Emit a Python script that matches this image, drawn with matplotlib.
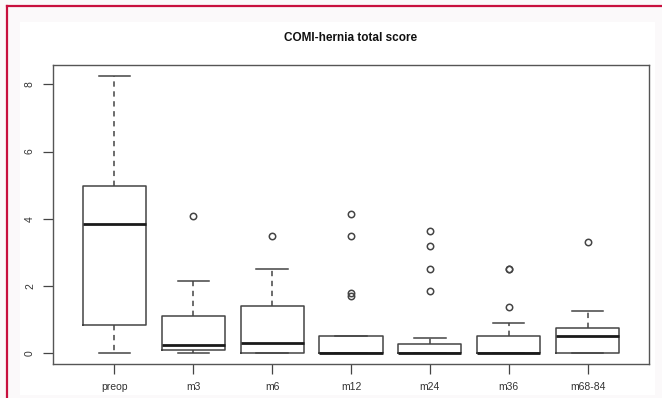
import matplotlib
matplotlib.use("Agg")
import matplotlib.pyplot as plt
from matplotlib.patches import Rectangle
from matplotlib.lines import Line2D

categories = ["preop", "m3", "m6", "m12", "m24", "m36", "m68-84"]
whislo = [0.0, 0.0, 0.0, 0.0, 0.0, 0.0, 0.0]
q1 = [0.84, 0.09, 0.0, 0.0, 0.0, 0.0, 0.0]
med = [3.84, 0.23, 0.31, 0.0, 0.0, 0.0, 0.51]
q3 = [4.98, 1.10, 1.40, 0.51, 0.27, 0.49, 0.74]
whishi = [8.25, 2.13, 2.50, 0.51, 0.45, 0.89, 1.25]
outliers = [
    [],
    [4.09],
    [3.49],
    [4.15, 3.49, 1.80, 1.69],
    [3.64, 3.19, 2.50, 1.84],
    [2.50, 2.50, 1.36],
    [3.30],
]
yticks = [0, 2, 4, 6, 8]
title = "COMI-hernia total score"

plt.rcParams['font.family'] = ['Liberation Sans', 'DejaVu Sans']

fig = plt.figure(figsize=(6.62, 3.98), dpi=100)
fig.patch.set_facecolor('#fbf9fa')

# inner white panel
fig.add_artist(Rectangle((20/662, 1-395/398), (655-20)/662, (395-22)/398,
                         transform=fig.transFigure, facecolor='white',
                         edgecolor='none', zorder=0))
# crimson frame lines (top and left)
fig.add_artist(Line2D([7/662, 1.0], [1-6/398, 1-6/398], transform=fig.transFigure,
                      color='#c8103e', lw=1.6))
fig.add_artist(Line2D([7/662, 7/662], [0, 1-6/398], transform=fig.transFigure,
                      color='#c8103e', lw=1.6))

ax = fig.add_axes([53/662, 1-364/398, (649-53)/662, (364-65)/398])
ax.set_facecolor('white')

stats = []
for i, c in enumerate(categories):
    stats.append(dict(label=c, whislo=whislo[i], q1=q1[i], med=med[i],
                      q3=q3[i], whishi=whishi[i], fliers=outliers[i]))

lc = '#444444'
ax.bxp(stats, positions=range(1, len(categories) + 1), widths=0.8,
       showfliers=True,
       boxprops=dict(color=lc, linewidth=1.1),
       whiskerprops=dict(color=lc, linewidth=1.1, linestyle=(0, (3.5, 3.0))),
       capprops=dict(color=lc, linewidth=1.1),
       capwidths=0.4,
       medianprops=dict(color='#1a1a1a', linewidth=2.0),
       flierprops=dict(marker='o', markerfacecolor='none', markeredgecolor=lc,
                       markersize=4.6, markeredgewidth=1.1))

n = len(categories)
ax.set_xlim(0.5 - 0.28, n + 0.5 + 0.28)
ax.set_ylim(-0.33, 8.58)
ax.set_yticks(yticks)
ax.set_yticklabels([str(v) for v in yticks], rotation=90, va='center')
ax.set_xticks(range(1, n + 1))
ax.set_xticklabels(categories)
ax.tick_params(axis='both', length=7, width=0.9, color=lc, labelsize=7.5, labelcolor='#333333')
ax.tick_params(axis='y', pad=6)
ax.tick_params(axis='x', pad=6)
for s in ax.spines.values():
    s.set_color('#555555')
    s.set_linewidth(1.0)

ax.set_title(title, fontsize=8.5, fontweight='bold', pad=17, color='#111111')

fig.savefig("out.png", dpi=100, facecolor=fig.get_facecolor())
